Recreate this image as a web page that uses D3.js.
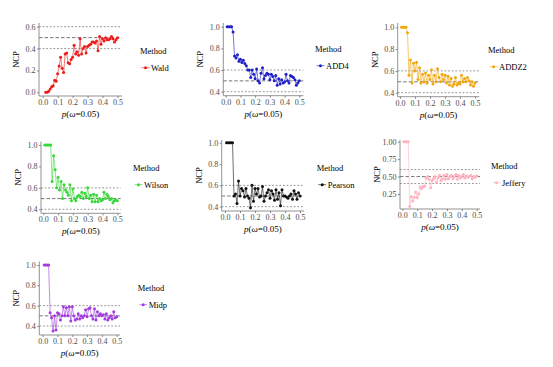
<!DOCTYPE html>
<html><head><meta charset="utf-8">
<script src="https://cdn.jsdelivr.net/npm/d3@7"></script>
<style>body{margin:0;background:#fff}svg{display:block}</style>
</head><body><svg id="c" width="553" height="367" style="font-family:'Liberation Serif',serif"></svg>
<script>
const pValues = [0.01,0.02,0.03,0.04,0.05,0.06,0.07,0.08,0.09,0.10,0.11,0.12,0.13,0.14,0.15,0.16,0.17,0.18,0.19,0.20,0.21,0.22,0.23,0.24,0.25,0.26,0.27,0.28,0.29,0.30,0.31,0.32,0.33,0.34,0.35,0.36,0.37,0.38,0.39,0.40,0.41,0.42,0.43,0.44,0.45,0.46,0.47,0.48,0.49,0.50];
const wald = [null,0.00,0.00,0.01,0.03,0.05,0.06,0.11,0.10,0.17,0.24,0.32,0.22,0.18,0.35,0.36,0.27,0.26,0.30,0.32,0.43,0.35,0.37,0.34,0.49,0.35,0.40,0.42,0.36,0.42,0.43,0.44,0.46,0.46,0.45,0.47,0.38,0.51,0.44,0.49,0.47,0.50,0.48,0.48,0.49,0.51,0.49,0.46,0.48,0.50];
const add4 = [1,1,1,1,0.95,0.73,0.71,0.74,0.68,0.70,0.67,0.69,0.66,0.64,0.60,0.60,0.53,0.60,0.56,0.52,0.61,0.50,0.48,0.57,0.62,0.52,0.55,0.57,0.56,0.51,0.56,0.54,0.50,0.55,0.46,0.52,0.47,0.51,0.48,0.49,0.56,0.50,0.48,0.55,0.54,0.53,0.51,0.46,0.48,0.50];
const addz2 = [1,1,1,1,0.95,0.56,0.70,0.49,0.67,0.60,0.68,0.52,0.63,0.49,0.57,0.50,0.58,0.49,0.56,0.52,0.61,0.48,0.56,0.50,0.62,0.54,0.50,0.57,0.52,0.56,0.49,0.55,0.47,0.53,0.46,0.48,0.54,0.47,0.49,0.48,0.56,0.50,0.53,0.50,0.54,0.51,0.47,0.50,0.46,0.49];
const wilson = [1,1,1,1,1,0.66,0.90,0.77,0.60,0.70,0.58,0.66,0.50,0.63,0.58,0.56,0.53,0.63,0.48,0.59,0.50,0.48,0.52,0.53,0.52,0.56,0.50,0.55,0.52,0.60,0.50,0.53,0.47,0.54,0.47,0.53,0.47,0.50,0.48,0.49,0.56,0.50,0.54,0.52,0.49,0.50,0.46,0.48,0.49,0.48];
const pearson = [1,1,1,1,1,0.50,0.52,0.43,0.64,0.50,0.57,0.55,0.49,0.57,0.50,0.48,0.39,0.60,0.45,0.57,0.52,0.57,0.49,0.50,0.59,0.45,0.50,0.53,0.56,0.48,0.55,0.52,0.46,0.56,0.47,0.53,0.41,0.56,0.50,0.50,0.49,0.48,0.50,0.52,0.47,0.55,0.52,0.47,0.53,0.50];
const jeffery = [1,1,1,1,0.07,0.21,0.15,0.20,0.28,0.20,0.25,0.35,0.33,0.36,0.36,0.48,0.50,0.46,0.34,0.44,0.47,0.50,0.42,0.48,0.52,0.44,0.47,0.52,0.46,0.53,0.47,0.50,0.52,0.47,0.50,0.53,0.46,0.52,0.48,0.50,0.53,0.48,0.51,0.49,0.50,0.52,0.47,0.50,0.49,0.51];
const midp = [1,1,1,1,0.53,0.48,0.35,0.50,0.36,0.53,0.52,0.46,0.50,0.59,0.50,0.58,0.50,0.59,0.45,0.59,0.50,0.46,0.47,0.52,0.47,0.50,0.48,0.50,0.56,0.49,0.57,0.58,0.50,0.47,0.57,0.46,0.54,0.50,0.52,0.50,0.51,0.47,0.52,0.46,0.48,0.50,0.47,0.54,0.48,0.49];
const methodNames = ["Wald","ADD4","ADDZ2","Wilson","Pearson","Jeffery","Midp"];
const methodValues = [wald, add4, addz2, wilson, pearson, jeffery, midp];
const methodColors = ["#ec1c1c","#2020c8","#f2a60e","#38d838","#111111","#ffb3c1","#a33be0"];
const xTicks = [0,0.1,0.2,0.3,0.4,0.5];
const yTicksA = [0,0.2,0.4,0.6];
const yTicksB = [0.4,0.6,0.8,1.0];
const yTicksC = [0.25,0.50,0.75,1.00];
const refLines = [0.4,0.5,0.6];

const FONT = "'Liberation Serif','Times New Roman',serif";
// layout (pixel positions of each panel)
const panels = [
 {left:39,right:122,top:23,bottom:96,x0:42.7,x1:117.5,yd:[0,0.6],yr:[92.3,26.7],ticks:yTicksA,fmt:".1f",leg:[140,51]},
 {left:223.3,right:303.3,top:23,bottom:95.7,x0:225.7,x1:299.3,yd:[0.4,1],yr:[91.7,26.7],ticks:yTicksB,fmt:".1f",leg:[315,49]},
 {left:397.7,right:479.3,top:23,bottom:96.7,x0:400,x1:475,yd:[0.4,1],yr:[92.7,27.3],ticks:yTicksB,fmt:".1f",leg:[488,50]},
 {left:41,right:120.7,top:141.5,bottom:213.3,x0:43.3,x1:117.3,yd:[0.4,1],yr:[209.3,145],ticks:yTicksB,fmt:".1f",leg:[133,168]},
 {left:221.7,right:304,top:140,bottom:211,x0:225,x1:300,yd:[0.4,1],yr:[206.7,142.7],ticks:yTicksB,fmt:".1f",leg:[316.7,168]},
 {left:400,right:480,top:140,bottom:209,x0:402.3,x1:476.7,yd:[0.25,1],yr:[194,141.7],ticks:yTicksC,fmt:".2f",leg:[491,166]},
 {left:39.3,right:120,top:261.5,bottom:335,x0:42.7,x1:116.7,yd:[0.4,1],yr:[326,265],ticks:yTicksB,fmt:".1f",leg:[137.7,288]}
];

const svg = d3.select("#c");
panels.forEach((P,i) => {
  const name = methodNames[i], vals = methodValues[i], col = methodColors[i];
  const data = pValues.map((p,j) => ({p, v: vals[j]}));
  const x = d3.scaleLinear().domain([0,0.5]).range([P.x0,P.x1]);
  const y = d3.scaleLinear().domain(P.yd).range(P.yr);
  const g = svg.append("g");
  refLines.forEach(r => {
    g.append("line").attr("x1",P.left).attr("x2",P.right).attr("y1",y(r)).attr("y2",y(r))
      .attr("stroke", r===0.5 ? "#555" : "#666").attr("stroke-width", r===0.5?0.8:0.7)
      .attr("stroke-dasharray", r===0.5 ? "3.5,2" : "1.8,1.8");
  });
  const xa = g.append("g").attr("transform",`translate(0,${P.bottom})`)
    .call(d3.axisBottom(x).tickValues(xTicks).tickFormat(d3.format(".1f")).tickSize(2).tickPadding(1.5));
  const ya = g.append("g").attr("transform",`translate(${P.left},0)`)
    .call(d3.axisLeft(y).tickValues(P.ticks).tickFormat(d3.format(P.fmt)).tickSize(2).tickPadding(1.5));
  [xa,ya].forEach(a => {
    a.attr("font-family",FONT).attr("font-size",8);
    a.select(".domain").remove();
    a.selectAll(".tick line").attr("stroke","#555").attr("stroke-width",0.7);
    a.selectAll(".tick text").attr("fill","#4d4d4d").style("font-size","8px").style("font-family",FONT);
  });
  g.append("line").attr("x1",P.left).attr("x2",P.right).attr("y1",P.bottom).attr("y2",P.bottom).attr("stroke","#777").attr("stroke-width",0.8);
  g.append("line").attr("x1",P.left).attr("x2",P.left).attr("y1",P.top).attr("y2",P.bottom).attr("stroke","#777").attr("stroke-width",0.8);
  const xt = g.append("text").attr("x",(P.left+P.right)/2).attr("y",P.bottom+21).attr("text-anchor","middle")
    .style("font-size","9px").style("font-family",FONT);
  xt.append("tspan").style("font-style","italic").text("p");
  xt.append("tspan").text("(");
  xt.append("tspan").style("font-style","italic").text("ω");
  xt.append("tspan").text("=0.05)");
  g.append("text").attr("transform",`translate(${P.left-20},${(P.top+P.bottom)/2}) rotate(-90)`)
    .attr("text-anchor","middle").style("font-size","8.5px").style("font-family",FONT).text("NCP");
  const line = d3.line().defined(d => d.v != null).x(d => x(d.p)).y(d => y(d.v));
  g.append("path").datum(data).attr("d",line).attr("fill","none").attr("stroke",col).attr("stroke-width",0.6);
  g.selectAll("circle.pt").data(data.filter(d => d.v != null)).join("circle").attr("class","pt")
    .attr("cx",d => x(d.p)).attr("cy",d => y(d.v)).attr("r",1.5).attr("fill",col);
  const [lx,ly] = P.leg;
  g.append("text").attr("x",lx).attr("y",ly+3).style("font-size","8.5px").style("font-family",FONT).text("Method");
  const ky = ly+16.7;
  g.append("line").attr("x1",lx+1.5).attr("x2",lx+9.5).attr("y1",ky).attr("y2",ky).attr("stroke",col).attr("stroke-width",0.6);
  g.append("circle").attr("cx",lx+5.5).attr("cy",ky).attr("r",1.5).attr("fill",col);
  g.append("text").attr("x",lx+11).attr("y",ky+3).style("font-size","8.5px").style("font-family",FONT).text(name);
});
</script></body></html>
